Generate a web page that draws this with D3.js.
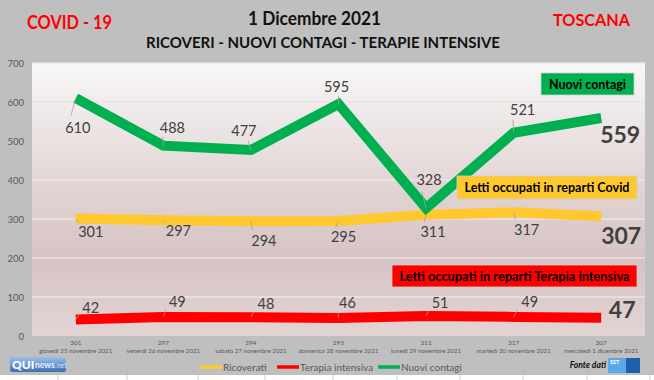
<!DOCTYPE html>
<html><head><meta charset="utf-8">
<script src="https://cdn.jsdelivr.net/npm/d3@7/dist/d3.min.js"></script>
<style>html,body{margin:0;padding:0;background:#bfbfbf;}svg{display:block;font-family:Lato,"Open Sans",sans-serif;}</style>
</head><body>
<svg id="c" width="654" height="380"></svg>
<script>
// ---- data ----
const dates = ["giovedì 25 novembre 2021","venerdì 26 novembre 2021","sabato 27 novembre 2021","domenica 28 novembre 2021","lunedì 29 novembre 2021","martedì 30 novembre 2021","mercoledì 1 dicembre 2021"];
const ricoverati = [301,297,294,295,311,317,307];
const terapiaIntensiva = [42,49,48,46,51,49,47];
const nuoviContagi = [610,488,477,595,328,521,559];
const yTicks = [0,100,200,300,400,500,600,700];

// ---- layout (label offsets relative to each point) ----
const offGreen = [[2,30],[9,-18],[-7,-19],[-2,-17],[3,-28],[9,-23],[19,17]];
const offYellow = [[15,13],[15,11],[13,19],[5,16],[7,17],[13,17],[20,19]];
const offRed = [[15,-12],[14,-15],[15,-14],[9,-15],[14,-13],[16,-15],[21,-8]];

const svg = d3.select("#c");
const W = 654, H = 380;
const P = {l:32, r:645, t:63, b:336};

svg.append("rect").attr("width",W).attr("height",H).attr("fill","#bfbfbf");

const defs = svg.append("defs");
const g1 = defs.append("linearGradient").attr("id","bg").attr("x1",0).attr("y1",0).attr("x2",0).attr("y2",1);
[[0,"#f8f7f7"],[0.45,"#e2d4d4"],[0.72,"#d7c3c3"],[1,"#e3d4d4"]].forEach(s=>g1.append("stop").attr("offset",s[0]).attr("stop-color",s[1]));
const g2 = defs.append("linearGradient").attr("id","qui").attr("x1",0).attr("y1",0).attr("x2",0).attr("y2",1);
[[0,"#9cc0ea"],[1,"#3d6fb3"]].forEach(s=>g2.append("stop").attr("offset",s[0]).attr("stop-color",s[1]));

// plot area
svg.append("rect").attr("x",P.l).attr("y",P.t).attr("width",P.r-P.l).attr("height",P.b-P.t).attr("fill","url(#bg)");

const x = d3.scalePoint().domain(d3.range(dates.length)).range([P.l,P.r]).padding(0.5);
const y = d3.scaleLinear().domain([0,700]).range([P.b,P.t]);

// gridlines
svg.append("g").selectAll("line").data(yTicks.slice(1)).join("line")
  .attr("x1",P.l).attr("x2",P.r).attr("y1",d=>y(d)).attr("y2",d=>y(d))
  .attr("stroke","#ece5e5").attr("stroke-width",1.3);

// y axis
const ya = svg.append("g").attr("transform",`translate(${P.l-8},0)`)
  .call(d3.axisLeft(y).tickValues(yTicks).tickSize(0).tickPadding(0));
ya.select(".domain").remove();
ya.selectAll("text").attr("fill","#595959").attr("font-size",9.5).attr("font-family","Lato");

// x axis labels (two lines)
const xa = svg.append("g").selectAll("g").data(dates).join("g")
  .attr("transform",(d,i)=>`translate(${x(i)},0)`);
xa.append("text").attr("y",345).attr("text-anchor","middle").attr("font-size",6.5).attr("fill","#595959").text((d,i)=>ricoverati[i]);
xa.append("text").attr("y",353).attr("text-anchor","middle").attr("font-size",6.2).attr("fill","#595959").text(d=>d);

// series lines
const line = d3.line().x((d,i)=>x(i)).y(d=>y(d));
function drawSeries(vals,color,w){
  svg.append("path").datum(vals).attr("d",line).attr("fill","none")
    .attr("stroke",color).attr("stroke-width",w).attr("stroke-linejoin","miter").attr("stroke-linecap","butt");
}
drawSeries(ricoverati,"#ffc92e",10);
drawSeries(terapiaIntensiva,"#ff0000",10);
drawSeries(nuoviContagi,"#00b050",10);

// data labels
function labels(vals,offs){
  const n = vals.length;
  const gg = svg.append("g");
  vals.forEach((v,i)=>{
    const cx = x(i), cy = y(v), lx = cx+offs[i][0], ly = cy+offs[i][1];
    const last = i===n-1;
    if(!last){
      const ex = lx + (cx<lx? -10 : 2), ey = ly + (ly>cy ? -7 : 6);
      gg.append("line").attr("x1",cx).attr("y1",cy).attr("x2",cx+(ex-cx)*0.6).attr("y2",cy+(ey-cy)*0.75)
        .attr("stroke","#a8a0a0").attr("stroke-width",0.8);
    }
    gg.append("text").attr("x",lx).attr("y",ly).attr("dy","0.36em").attr("text-anchor","middle")
      .attr("fill","#404040").attr("font-size",last?23:14.5).attr("font-weight",last?"bold":"normal")
      .text(v);
  });
}
labels(nuoviContagi,offGreen);
labels(ricoverati,offYellow);
labels(terapiaIntensiva,offRed);

// annotation boxes
function box(x0,y0,x1,y1,fill,txt,tl){
  svg.append("rect").attr("x",x0).attr("y",y0).attr("width",x1-x0).attr("height",y1-y0)
    .attr("fill",fill).attr("stroke","#d0d0d0").attr("stroke-width",0.8);
  svg.append("text").attr("x",(x0+x1)/2).attr("y",(y0+y1)/2).attr("dy","0.36em").attr("text-anchor","middle")
    .attr("font-size",13).attr("font-weight","bold").attr("fill","#000")
    .attr("textLength",tl).attr("lengthAdjust","spacingAndGlyphs").text(txt);
}
box(541,73,634,95,"#00b050","Nuovi contagi",77);
box(457,176,637,199,"#ffc92e","Letti occupati in reparti Covid",165);
box(392,265,637,287,"#ff0000","Letti occupati in reparti Terapia intensiva",230);

// titles
svg.append("text").attr("x",27).attr("y",29).attr("font-size",18).attr("font-weight","bold").attr("fill","#ff0000")
  .attr("textLength",85).attr("lengthAdjust","spacingAndGlyphs").text("COVID - 19");
svg.append("text").attr("x",553).attr("y",26).attr("font-size",17).attr("font-weight","bold").attr("fill","#ff0000")
  .attr("textLength",77).attr("lengthAdjust","spacingAndGlyphs").text("TOSCANA");
svg.append("text").attr("x",248).attr("y",25).attr("font-size",18).attr("font-weight","bold").attr("fill","#111")
  .attr("textLength",133).attr("lengthAdjust","spacingAndGlyphs").text("1 Dicembre 2021");
svg.append("text").attr("x",146).attr("y",48).attr("font-size",14.5).attr("font-weight","bold").attr("fill","#111")
  .attr("textLength",354).attr("lengthAdjust","spacingAndGlyphs").text("RICOVERI - NUOVI CONTAGI - TERAPIE INTENSIVE");

// legend
const legend = [["Ricoverati","#ffc92e",200],["Terapia intensiva","#ff0000",277],["Nuovi contagi","#00b050",378]];
const lg = svg.append("g").selectAll("g").data(legend).join("g").attr("transform",d=>`translate(${d[2]},367)`);
lg.append("line").attr("x1",0).attr("x2",22).attr("stroke",d=>d[1]).attr("stroke-width",3.5);
lg.append("text").attr("x",23).attr("dy","0.35em").attr("font-size",10).attr("fill","#595959").text(d=>d[0]);

// QUInews logo
svg.append("rect").attr("x",10).attr("y",357).attr("width",56).attr("height",15).attr("rx",2).attr("fill","url(#qui)");
svg.append("text").attr("x",12).attr("y",369).attr("font-size",12).attr("font-weight","900").attr("fill","#fff").text("QUI");
svg.append("text").attr("x",35).attr("y",368).attr("font-size",8.5).attr("font-weight","bold").attr("fill","#e8f0fa").text("news");
svg.append("text").attr("x",55).attr("y",368).attr("font-size",7).attr("fill","#cfe0f5").text(".net");

// Fonte dati + SST logo
svg.append("text").attr("x",606).attr("y",368).attr("text-anchor","end").attr("font-size",8.5).attr("font-weight","bold").attr("font-style","italic").attr("fill","#111").text("Fonte dati");
svg.append("rect").attr("x",608).attr("y",358).attr("width",18).attr("height",15).attr("fill","#5aa8e6");
svg.append("rect").attr("x",626).attr("y",358).attr("width",14).attr("height",15).attr("fill","#1f5fae");
svg.append("text").attr("x",610).attr("y",364).attr("font-size",5.5).attr("font-weight","bold").attr("fill","#fff").text("SST");

// bottom white strip
svg.append("rect").attr("x",0).attr("y",375).attr("width",W).attr("height",5).attr("fill","#fff");
svg.append("g").selectAll("line").data([58,127,198,265,333,397,460,523,587,650]).join("line")
  .attr("x1",d=>d).attr("x2",d=>d).attr("y1",375).attr("y2",380).attr("stroke","#d0d0d0");
</script>
</body></html>
